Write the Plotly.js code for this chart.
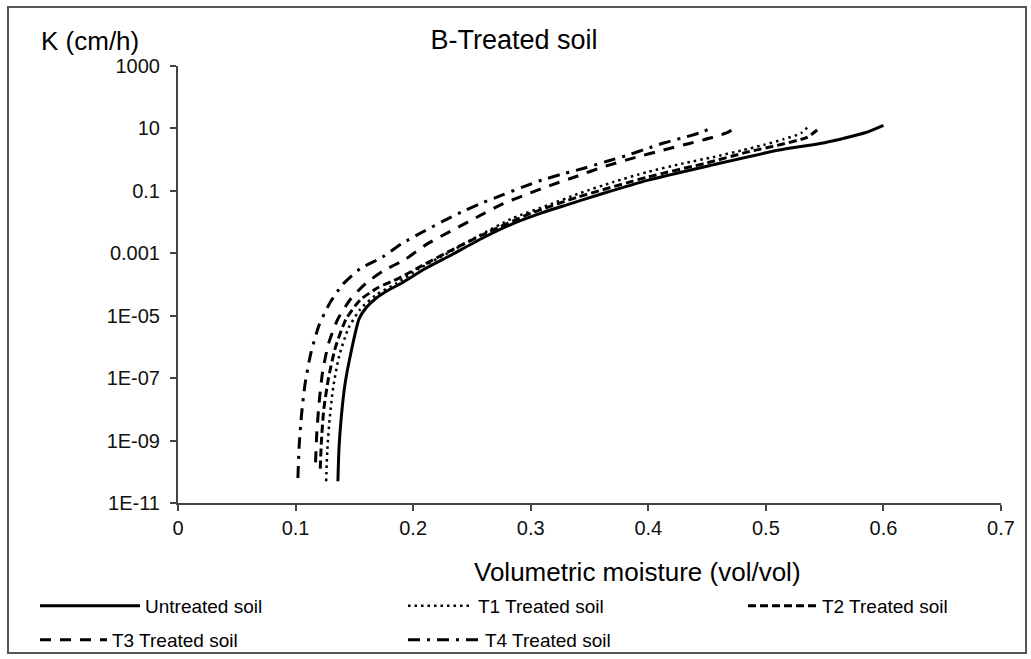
<!DOCTYPE html>
<html>
<head>
<meta charset="utf-8">
<script src="https://cdn.plot.ly/plotly-3.0.1.min.js"></script>
<style>html,body{margin:0;padding:0;background:#fff}#chart{width:1031px;height:659px}</style>
</head>
<body>
<div id="chart"></div>
<script>
// Volumetric moisture (vol/vol) and hydraulic conductivity K (cm/h)
var untreatedTheta = [0.136, 0.137, 0.139, 0.142, 0.147, 0.154, 0.16, 0.168, 0.178, 0.19, 0.21, 0.23, 0.26, 0.285, 0.31, 0.33, 0.36, 0.4, 0.455, 0.51, 0.55, 0.585, 0.6];
var untreatedK = [5.0e-11, 6.3e-10, 6.3e-9, 6.3e-8, 6.3e-7, 7.9e-6, 1.8e-5, 3.5e-5, 6.3e-5, 1.1e-4, 3.2e-4, 7.9e-4, 3.2e-3, 8.9e-3, 0.02, 0.035, 0.079, 0.22, 0.68, 2.0, 3.5, 7.4, 12.6];

var t1Theta = [0.126, 0.127, 0.129, 0.132, 0.137, 0.145, 0.155, 0.168, 0.186, 0.205, 0.229, 0.255, 0.285, 0.315, 0.342, 0.37, 0.399, 0.43, 0.455, 0.48, 0.498, 0.515, 0.53, 0.537];
var t1K = [5.0e-11, 5.0e-10, 5.0e-9, 5.0e-8, 5.0e-7, 4.0e-6, 1.6e-5, 4.5e-5, 1.1e-4, 3.2e-4, 1.0e-3, 3.5e-3, 0.0135, 0.035, 0.085, 0.19, 0.40, 0.76, 1.2, 2.0, 2.95, 4.5, 7.1, 12.6];

var t2Theta = [0.121, 0.122, 0.124, 0.128, 0.134, 0.143, 0.155, 0.17, 0.188, 0.21, 0.235, 0.265, 0.3, 0.34, 0.4, 0.45, 0.484, 0.512, 0.535, 0.546];
var t2K = [1.26e-10, 1.0e-9, 1.0e-8, 1.0e-7, 1.0e-6, 7.9e-6, 3.2e-5, 7.9e-5, 1.6e-4, 4.5e-4, 1.4e-3, 5.0e-3, 0.019, 0.063, 0.28, 0.79, 1.74, 3.0, 5.2, 10.5];

var t3Theta = [0.117, 0.118, 0.12, 0.123, 0.128, 0.136, 0.147, 0.16, 0.175, 0.193, 0.212, 0.234, 0.255, 0.274, 0.296, 0.318, 0.34, 0.361, 0.387, 0.413, 0.435, 0.455, 0.468, 0.477];
var t3K = [2.0e-10, 1.6e-9, 1.6e-8, 1.6e-7, 1.26e-6, 7.9e-6, 3.5e-5, 1.1e-4, 2.8e-4, 6.3e-4, 2.0e-3, 5.6e-3, 0.0148, 0.035, 0.076, 0.155, 0.30, 0.575, 1.12, 2.04, 3.3, 5.2, 7.6, 12.6];

var t4Theta = [0.102, 0.103, 0.105, 0.108, 0.113, 0.12, 0.129, 0.14, 0.155, 0.174, 0.19, 0.208, 0.225, 0.241, 0.258, 0.276, 0.293, 0.31, 0.328, 0.346, 0.365, 0.383, 0.398, 0.413, 0.435, 0.447, 0.455];
var t4K = [6.3e-11, 6.3e-10, 6.3e-9, 6.3e-8, 6.3e-7, 5.0e-6, 2.5e-5, 1.0e-4, 3.2e-4, 7.6e-4, 2.0e-3, 4.8e-3, 0.0105, 0.021, 0.04, 0.074, 0.132, 0.224, 0.355, 0.54, 0.89, 1.41, 2.2, 3.4, 5.75, 7.9, 11.2];

var seriesNames = ["Untreated soil", "T1 Treated soil", "T2 Treated soil", "T3 Treated soil", "T4 Treated soil"];

var yTickVals = [1e3, 10, 0.1, 1e-3, 1e-5, 1e-7, 1e-9, 1e-11];
var yTickText = ["1000", "10", "0.1", "0.001", "1E-05", "1E-07", "1E-09", "1E-11"];
var xTickVals = [0, 0.1, 0.2, 0.3, 0.4, 0.5, 0.6, 0.7];
var xTickText = ["0", "0.1", "0.2", "0.3", "0.4", "0.5", "0.6", "0.7"];

var FONT = "Liberation Sans, Arial, sans-serif";
var W = 1031, H = 659;
var M = {l: 178, r: 30, t: 66, b: 156, autoexpand: false};
var PW = W - M.l - M.r, PH = H - M.t - M.b;

function mk(x, y, i, dash, width, leg) {
  return {x: x, y: y, name: seriesNames[i], type: "scatter", mode: "lines",
          line: {color: "#000", width: width, dash: dash, shape: "spline", smoothing: 0.6},
          legend: leg, hoverinfo: "x+y+name"};
}
var traces = [
  mk(untreatedTheta, untreatedK, 0, "solid", 3, "legend"),
  mk(t1Theta, t1K, 1, "2.5px,4px", 2.5, "legend2"),
  mk(t2Theta, t2K, 2, "8px,4px", 3, "legend3"),
  mk(t3Theta, t3K, 3, "11px,9px", 3, "legend4"),
  mk(t4Theta, t4K, 4, "12px,7px,3px,7px", 3, "legend5")
];

function leg(px, py, iw) {
  return {xref: "container", yref: "container", x: px / W, y: 1 - py / H,
          xanchor: "left", yanchor: "middle", orientation: "v", itemwidth: iw,
          bgcolor: "rgba(0,0,0,0)", borderwidth: 0, font: {family: FONT, size: 19, color: "#000"}};
}

var axisCommon = {showgrid: false, zeroline: false, showline: true, linecolor: "#444", linewidth: 2,
                  ticks: "outside", ticklen: 6, tickwidth: 2, tickcolor: "#444",
                  tickfont: {family: FONT, size: 20, color: "#111"}};

var layout = {
  width: W, height: H,
  margin: M,
  paper_bgcolor: "#fff", plot_bgcolor: "#fff",
  showlegend: true,
  title: {text: "B-Treated soil", xref: "container", yref: "container", x: 514 / W, y: 1 - 40 / H,
          xanchor: "center", yanchor: "middle", font: {family: FONT, size: 27, color: "#000"}},
  xaxis: Object.assign({}, axisCommon, {range: [0, 0.7], tickmode: "array", tickvals: xTickVals, ticktext: xTickText, fixedrange: true, automargin: false}),
  yaxis: Object.assign({}, axisCommon, {type: "log", range: [-11, 3], tickmode: "array", tickvals: yTickVals, ticktext: yTickText, fixedrange: true, automargin: false, ticklabelstandoff: 6}),
  legend: leg(35, 606, 100),
  legend2: leg(403, 606, 65),
  legend3: leg(743, 606, 69),
  legend4: leg(35, 640, 67),
  legend5: leg(403, 640, 72),
  annotations: [
    {text: "K (cm/h)", xref: "paper", yref: "paper", x: (90 - M.l) / PW, y: (H - M.b - 41) / PH,
     xanchor: "center", yanchor: "middle", showarrow: false, font: {family: FONT, size: 26, color: "#000"}},
    {text: "Volumetric moisture (vol/vol)", xref: "paper", yref: "paper", x: (637 - M.l) / PW, y: (H - M.b - 572) / PH,
     xanchor: "center", yanchor: "middle", showarrow: false, font: {family: FONT, size: 26, color: "#000"}}
  ],
  shapes: [
    {type: "rect", xref: "paper", yref: "paper",
     x0: (8 - M.l) / PW, x1: (1026 - M.l) / PW, y0: (H - M.b - 653) / PH, y1: (H - M.b - 7) / PH,
     line: {color: "#555", width: 2}, fillcolor: "rgba(0,0,0,0)", layer: "below"}
  ]
};

Plotly.newPlot("chart", traces, layout, {displayModeBar: false, staticPlot: true});
</script>
</body>
</html>
